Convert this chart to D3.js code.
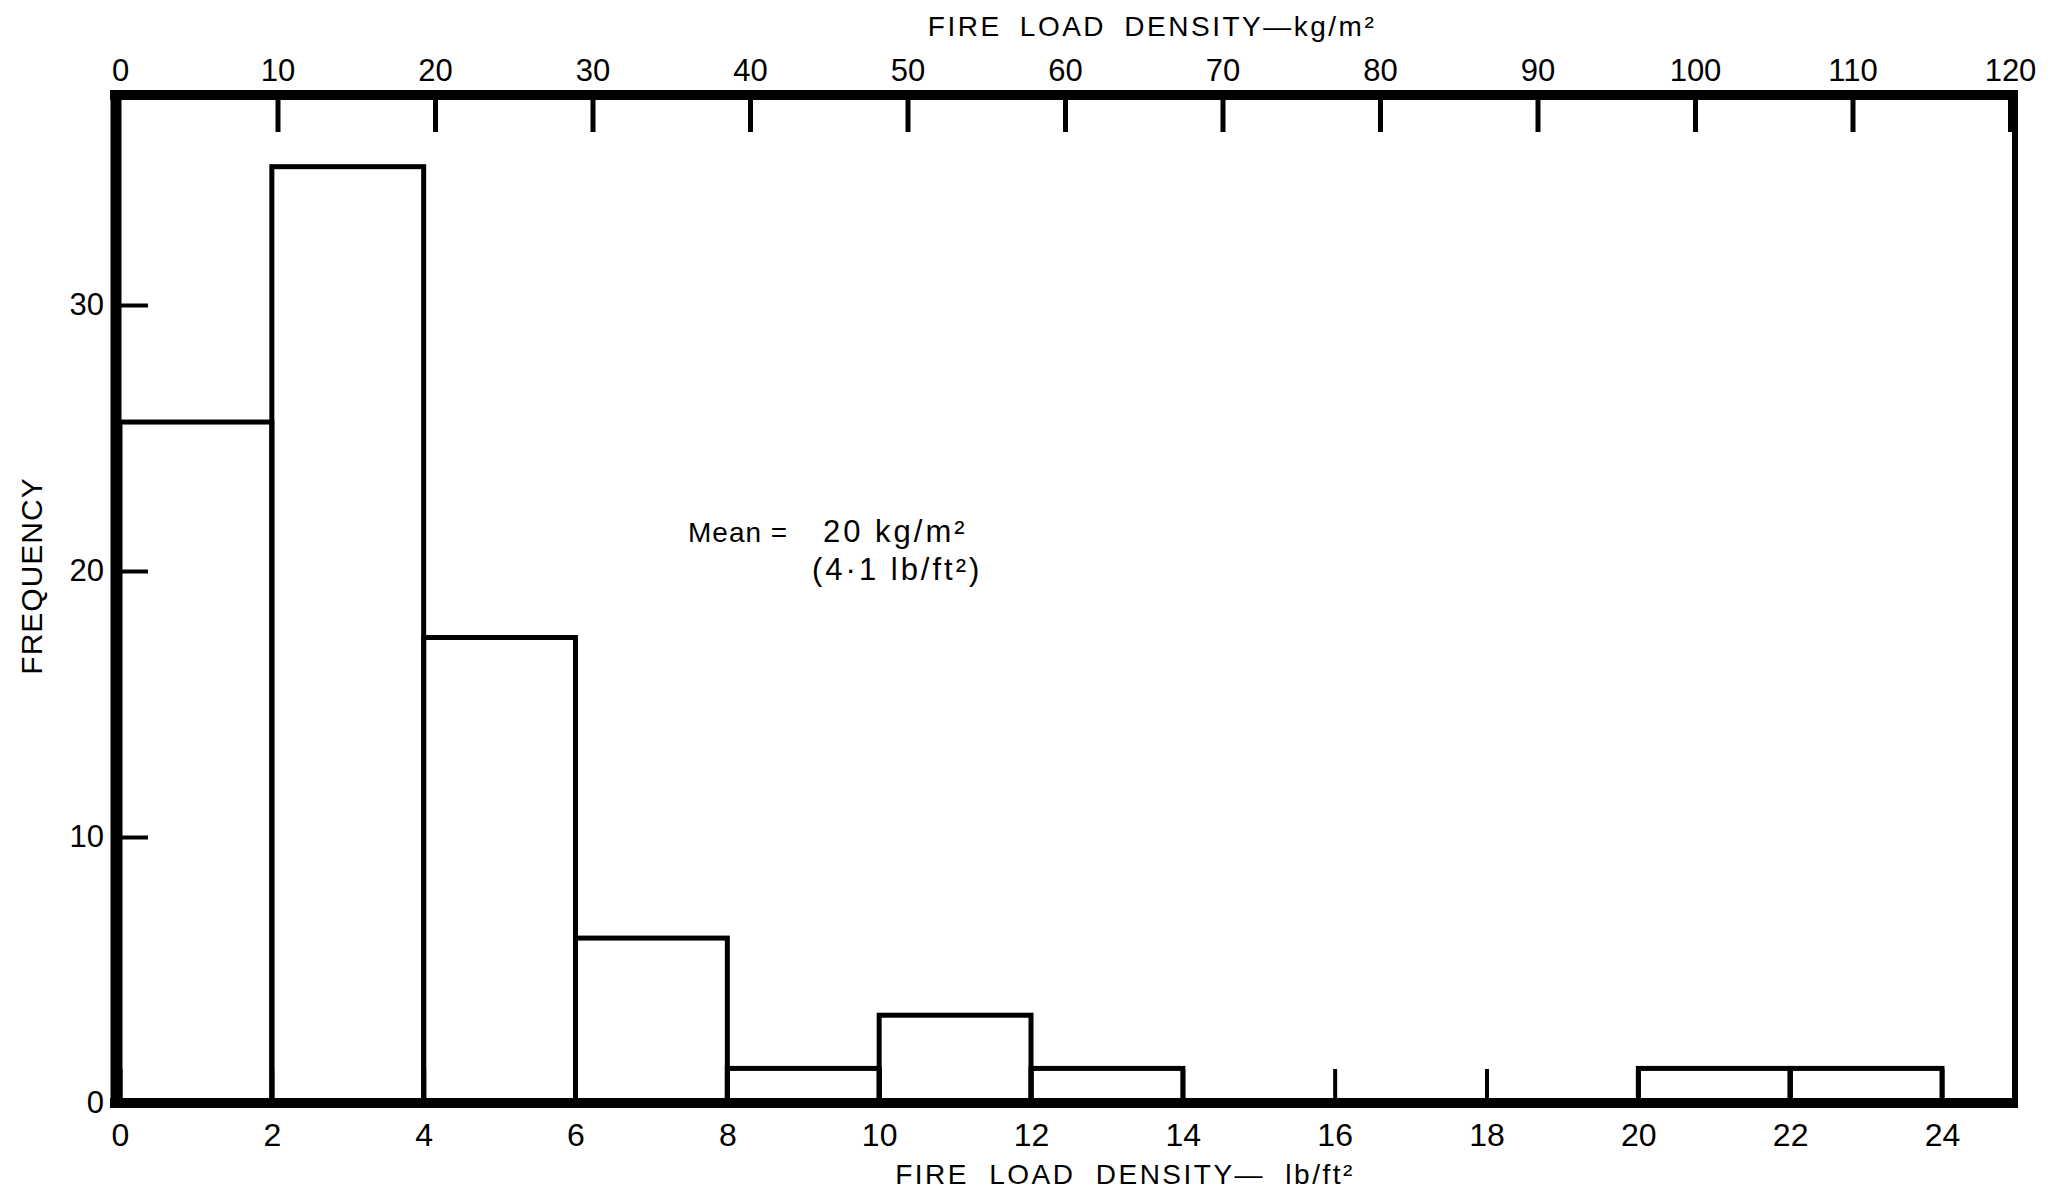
<script src="https://d3js.org/d3.v7.min.js"></script>
<style>
  body { margin: 0; background: #fff; }
  svg text { font-family: "Liberation Sans", Arial, sans-serif; fill: #000; }
</style>
<div id="container"></div>
<script>
  // data (lb/ft2 bins, 2 wide)
  const binStarts = [0, 2, 4, 6, 8, 10, 12, 14, 16, 18, 20, 22];
  const binWidth = 2;
  const frequency = [25.6, 35.2, 17.5, 6.2, 1.3, 3.3, 1.3, 0, 0, 0, 1.3, 1.3];

  // tick labels
  const lbTicks = [0, 2, 4, 6, 8, 10, 12, 14, 16, 18, 20, 22, 24];
  const kgTicks = [0, 10, 20, 30, 40, 50, 60, 70, 80, 90, 100, 110, 120];
  const freqTicks = [0, 10, 20, 30];

  // svg dimensions
  width = 2053
  height = 1192

  // frame
  left = 116
  right = 2015
  top_ = 95
  bottom = 1103

  var svg = d3.select("#container").append("svg")
    .attr("width", width)
    .attr("height", height);

  var x = d3.scaleLinear().domain([0, 24]).range([120, 1942]);
  var xKg = d3.scaleLinear().domain([0, 120]).range([120, 2010]);
  var y = d3.scaleLinear().domain([0, 30]).range([bottom, 305]);

  // bars
  svg.append("g").selectAll("rect")
    .data(binStarts.map((s, i) => ({start: s, value: frequency[i]})).filter(d => d.value > 0))
    .join("rect")
    .attr("x", d => x(d.start))
    .attr("y", d => y(d.value))
    .attr("width", d => x(d.start + binWidth) - x(d.start))
    .attr("height", d => y(0) - y(d.value))
    .attr("fill", "none")
    .attr("stroke", "black")
    .attr("stroke-width", 5);

  // top axis, kg/m2, ticks pointing down into the plot
  var topAxis = svg.append("g")
    .attr("transform", "translate(0," + top_ + ")")
    .call(d3.axisTop(xKg).tickValues(kgTicks).tickSizeInner(-37).tickSizeOuter(0).tickPadding(14));
  topAxis.select(".domain").remove();
  topAxis.selectAll("line").attr("stroke-width", 5);
  topAxis.selectAll("line").filter(d => d === 0).remove();
  topAxis.selectAll("text").attr("font-size", 31);

  // bottom axis, lb/ft2, ticks pointing up
  var bottomAxis = svg.append("g")
    .attr("transform", "translate(0," + bottom + ")")
    .call(d3.axisBottom(x).tickValues(lbTicks).tickSizeInner(-34).tickSizeOuter(0).tickPadding(20));
  bottomAxis.select(".domain").remove();
  bottomAxis.selectAll("line").attr("stroke-width", 4);
  bottomAxis.selectAll("text").attr("font-size", 32);

  // left axis, frequency
  var leftAxis = svg.append("g")
    .attr("transform", "translate(" + left + ",0)")
    .call(d3.axisLeft(y).tickValues(freqTicks).tickSizeInner(-32).tickSizeOuter(0).tickPadding(12));
  leftAxis.select(".domain").remove();
  leftAxis.selectAll("line").attr("stroke-width", 4);
  leftAxis.selectAll("text").attr("font-size", 31);

  // heavy frame
  svg.append("line").attr("x1", left - 6).attr("x2", right + 3).attr("y1", top_).attr("y2", top_)
    .attr("stroke", "black").attr("stroke-width", 10);
  svg.append("line").attr("x1", left - 6).attr("x2", right + 3).attr("y1", bottom).attr("y2", bottom)
    .attr("stroke", "black").attr("stroke-width", 10);
  svg.append("line").attr("x1", left).attr("x2", left).attr("y1", top_ - 5).attr("y2", bottom + 5)
    .attr("stroke", "black").attr("stroke-width", 11);
  svg.append("line").attr("x1", right).attr("x2", right).attr("y1", top_ - 5).attr("y2", bottom + 5)
    .attr("stroke", "black").attr("stroke-width", 6);

  // axis titles
  svg.append("text")
    .attr("x", 1152).attr("y", 36)
    .attr("text-anchor", "middle")
    .attr("font-size", 28)
    .attr("letter-spacing", 2.5)
    .attr("word-spacing", 8)
    .text("FIRE LOAD DENSITY\u2014kg/m\u00b2");

  svg.append("text")
    .attr("x", 1125).attr("y", 1184)
    .attr("text-anchor", "middle")
    .attr("font-size", 28)
    .attr("letter-spacing", 2.5)
    .attr("word-spacing", 10)
    .text("FIRE LOAD DENSITY\u2014 lb/ft\u00b2");

  svg.append("text")
    .attr("transform", "translate(42,576) rotate(-90)")
    .attr("text-anchor", "middle")
    .attr("font-size", 30)
    .attr("letter-spacing", 1)
    .text("FREQUENCY");

  // mean annotation
  svg.append("text")
    .attr("x", 688).attr("y", 542)
    .attr("font-size", 28)
    .attr("letter-spacing", 1)
    .text("Mean =");
  svg.append("text")
    .attr("x", 823).attr("y", 542)
    .attr("font-size", 31)
    .attr("letter-spacing", 3)
    .text("20 kg/m\u00b2");
  svg.append("text")
    .attr("x", 812).attr("y", 580)
    .attr("font-size", 31)
    .attr("letter-spacing", 3)
    .text("(4\u00b71 lb/ft\u00b2)");
</script>
